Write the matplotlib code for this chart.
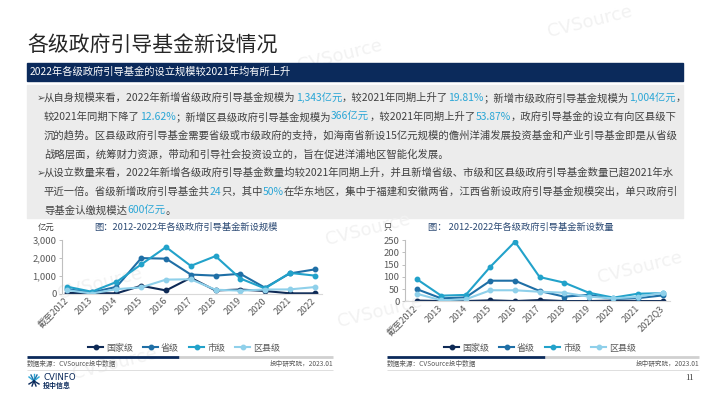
import matplotlib
matplotlib.use('Agg')
import matplotlib.pyplot as plt
from matplotlib.lines import Line2D
from matplotlib.patches import Rectangle

plt.rcParams['font.family'] = ['Noto Sans CJK SC', 'DejaVu Sans']

# ---------------- data ----------------
years_scale = ['截至2012', '2013', '2014', '2015', '2016', '2017', '2018', '2019', '2020', '2021', '2022']
years_count = ['截至2012', '2013', '2014', '2015', '2016', '2017', '2018', '2019', '2020', '2021', '2022Q3']
levels = ['国家级', '省级', '市级', '区县级']

scale_national = [40, 40, 20, 440, 180, 880, 180, 230, 150, 20, 20]
scale_provincial = [250, 70, 380, 1970, 1940, 1060, 1000, 1100, 330, 1121, 1343]
scale_city = [390, 110, 650, 1620, 2580, 1540, 2080, 840, 290, 1149, 1004]
scale_county = [200, 10, 250, 350, 780, 800, 220, 170, 230, 238, 366]

count_national = [3, 1, 1, 4, 1, 5, 1, 1, 3, 1, 1]
count_provincial = [50, 12, 16, 84, 84, 42, 19, 26, 10, 13, 24]
count_city = [91, 23, 26, 141, 243, 99, 76, 35, 15, 31, 33]
count_county = [31, 4, 8, 45, 45, 39, 35, 19, 12, 18, 35]

scale_ticks = [0, 1000, 2000, 3000]
scale_ticklabels = ['0', '1,000', '2,000', '3,000']
count_ticks = [0, 50, 100, 150, 200, 250]
count_ticklabels = ['0', '50', '100', '150', '200', '250']

title = '各级政府引导基金新设情况'
subtitle = '2022年各级政府引导基金的设立规模较2021年均有所上升'
chart1_title = '图：2012-2022年各级政府引导基金新设规模'
chart2_title = '图： 2012-2022年各级政府引导基金新设数量'
unit1 = '亿元'
unit2 = '只'
source_text = '数据来源：CVSource投中数据'
inst_text = '投中研究院，2023.01'
page_no = '11'

K = '#404040'
B = '#2aa6d6'
para_lines = [
    (True, [('从自身规模来看，2022年新增省级政府引导基金规模为', K), ('1,343亿元', B), ('，较2021年同期上升了', K),
            ('19.81%', B), ('；新增市级政府引导基金规模为', K), ('1,004亿元', B), ('，', K)]),
    (False, [('较2021年同期下降了', K), ('12.62%', B), ('；新增区县级政府引导基金规模为', K), ('366亿元', B),
             ('，较2021年同期上升了', K), ('53.87%', B), ('，政府引导基金的设立有向区县级下', K)]),
    (False, [('沉的趋势。区县级政府引导基金需要省级或市级政府的支持，如海南省新设15亿元规模的儋州洋浦发展投资基金和产业引导基金即是从省级', K)]),
    (False, [('战略层面，统筹财力资源，带动和引导社会投资设立的，旨在促进洋浦地区智能化发展。', K)]),
    (True, [('从设立数量来看，2022年新增各级政府引导基金数量均较2021年同期上升，并且新增省级、市级和区县级政府引导基金数量已超2021年水', K)]),
    (False, [('平近一倍。省级新增政府引导基金共', K), ('24', B), ('只，其中', K), ('50%', B),
             ('在华东地区，集中于福建和安徽两省，江西省新设政府引导基金规模突出，单只政府引', K)]),
    (False, [('导基金认缴规模达', K), ('600亿元', B), ('。', K)]),
]

colors = ['#0e2a56', '#1f6fa6', '#22a2ca', '#8fd0ea']

# ---------------- figure ----------------
W, H = 710, 399
fig = plt.figure(figsize=(7.1, 3.99), dpi=100)
fig.patch.set_facecolor('white')
renderer = fig.canvas.get_renderer()


def fx(x):
    return x / W


def fy(y):
    return 1 - y / H


# faint watermarks
for (wx, wy) in [(590, 22), (340, 56), (100, 284), (368, 230), (640, 268), (380, 312), (115, 364)]:
    fig.text(fx(wx), fy(wy), 'CVSource', fontsize=13, color='#f2f2f2', rotation=14,
             ha='center', va='center', family='DejaVu Sans', zorder=-5)

# title
fig.text(fx(27), fy(46), title, fontsize=15, color='#262626', va='center', ha='left')

# navy bar
fig.patches.append(Rectangle((fx(27), fy(81)), fx(683) - fx(27), fy(63) - fy(81),
                             transform=fig.transFigure, color='#0b2a5b', zorder=0))
fig.text(fx(30), fy(72), subtitle, fontsize=7.4, color='white', va='center', ha='left')

# grey box
fig.patches.append(Rectangle((fx(27), fy(218)), fx(683) - fx(27), fy(85) - fy(218),
                             transform=fig.transFigure, color='#ececec', zorder=-10))


def measure(s, fs):
    t = fig.text(0, 0, s, fontsize=fs)
    w = t.get_window_extent(renderer).width
    t.remove()
    return w


base = 7.5
w1 = measure(''.join(s for s, _ in para_lines[0][1]), base)
fs_body = base * 638 / w1

line_y = [98, 117, 135.5, 154.5, 173, 192, 211]
for (bullet, segs), yy in zip(para_lines, line_y):
    if bullet:
        fig.text(fx(36.5), fy(yy), '➢', fontsize=fs_body, color='#505050', va='center', ha='left',
                 family=['DejaVu Sans'])
    x = 44
    for s, c in segs:
        t = fig.text(fx(x), fy(yy), s, fontsize=fs_body, color=c, va='center', ha='left')
        x += t.get_window_extent(renderer).width


# ---------------- charts ----------------
def make_chart(left, right, top, bottom, xl, xr, xlabels, series, yticks, yticklabels, ymax,
               ctitle, ctitle_x, unit, unit_x, legend_x):
    ax = fig.add_axes([fx(left), fy(bottom), fx(right) - fx(left), fy(top) - fy(bottom)])
    ax.set_facecolor('none')
    xs = list(range(len(xlabels)))
    for vals, col in zip(series, colors):
        ax.plot(xs, vals, color=col, lw=1.5, marker='o', markersize=3.2, solid_capstyle='round')
    ax.set_xlim(xl, xr)
    ax.set_ylim(0, ymax)
    ax.set_yticks(yticks)
    ax.set_yticklabels(yticklabels)
    ax.set_xticks(xs)
    ax.set_xticklabels(xlabels, rotation=45, ha='right', va='center', rotation_mode='anchor')
    for sp in ['top', 'right']:
        ax.spines[sp].set_visible(False)
    ax.spines['left'].set_color('#bfbfbf')
    ax.spines['left'].set_linewidth(0.8)
    ax.spines['bottom'].set_color('#d9d9d9')
    ax.spines['bottom'].set_linewidth(0.8)
    ax.tick_params(axis='y', direction='out', length=2.5, width=0.7, color='#bfbfbf',
                   labelsize=6.8, labelcolor='#595959', pad=1.5)
    ax.tick_params(axis='x', length=0, labelsize=6.6, labelcolor='#595959', pad=4)
    fig.text(fx(ctitle_x), fy(227), ctitle, fontsize=6.7, color='#2c4a74', ha='center', va='center')
    fig.text(fx(unit_x), fy(227), unit, fontsize=6, color='#404040', ha='center', va='center')
    handles = [Line2D([0], [0], color=c, lw=1.5, marker='o', markersize=3.2) for c in colors]
    fig.legend(handles, levels, loc='center', bbox_to_anchor=(fx(legend_x), fy(348)),
               bbox_transform=fig.transFigure, ncol=4, frameon=False, fontsize=6.5,
               handlelength=1.7, handletextpad=0.3, columnspacing=1.1, labelcolor='#595959')
    return ax


make_chart(62, 322, 239.5, 293.7, -0.2, 10.3, years_scale,
           [scale_national, scale_provincial, scale_city, scale_county],
           scale_ticks, scale_ticklabels, 3000, chart1_title, 186, unit1, 46, 184)
make_chart(405, 670, 240, 301.3, -0.47, 10.3, years_count,
           [count_national, count_provincial, count_city, count_county],
           count_ticks, count_ticklabels, 250, chart2_title, 521, unit2, 388, 540)


# ---------------- footer ----------------
def hline(x0, x1, y, color, lw):
    fig.add_artist(Line2D([fx(x0), fx(x1)], [fy(y), fy(y)], transform=fig.transFigure,
                          color=color, lw=lw, solid_capstyle='butt'))


for (x0, xm, x1) in [(27, 179, 333), (387, 545, 699)]:
    hline(x0, xm, 357, '#0b2a5b', 2.0)
    hline(xm, x1, 357, '#d0d0d0', 2.0)
    fig.text(fx(x0), fy(364), source_text, fontsize=4.8, color='#595959', ha='left', va='center')
    fig.text(fx(x1), fy(364), inst_text, fontsize=4.8, color='#595959', ha='right', va='center')
    hline(x0, x1, 369.5, '#d9d9d9', 0.6)

# logo
for dx, dy, c in [(-5, -4, '#2aa6d6'), (-3, -6, '#1f6fa6'), (0, -7, '#2aa6d6'), (3, -6, '#1f6fa6'),
                  (5, -4, '#2aa6d6'), (-5, 3, '#0b2a5b'), (-2, 5, '#0b2a5b'), (2, 5, '#0b2a5b'), (5, 3, '#0b2a5b')]:
    fig.add_artist(Line2D([fx(34), fx(34 + dx)], [fy(381), fy(381 + dy)], transform=fig.transFigure,
                          color=c, lw=1.0))
fig.text(fx(43), fy(377.5), 'CVINFO', fontsize=6.2, color='#0b2a5b', ha='left', va='center',
         family=['DejaVu Sans'])
fig.text(fx(43), fy(385.5), '投中信息', fontsize=5, color='#0b2a5b', ha='left', va='center', weight='bold')

fig.text(fx(690), fy(378), page_no, fontsize=6.5, color='#404040', ha='center', va='center',
         family=['Liberation Serif'])

fig.savefig('out.png', dpi=100, facecolor='white')
